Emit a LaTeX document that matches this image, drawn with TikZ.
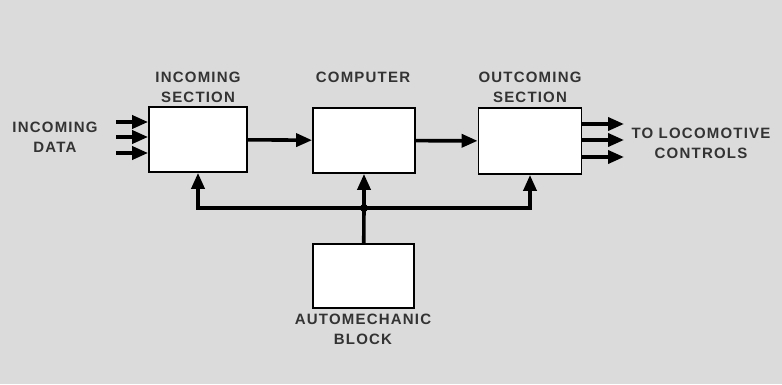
\documentclass[tikz,border=0pt]{standalone}
\usepackage{fontspec}
\newfontfamily\blockfont[LetterSpace=8]{Liberation Sans}
\usetikzlibrary{arrows.meta}

\begin{document}
\begin{tikzpicture}[x=1pt, y=-1pt,
  blocknode/.style={draw, line width=1.8pt, fill=white, inner sep=0pt},
  textnode/.style={font=\blockfont\bfseries\fontsize{15}{20}\selectfont, align=center, text=black!80},
  flow/.style={line width=3.6pt, -{Triangle[length=16pt, width=13pt]}}]
\fill[gray!28] (0,0) rectangle (782,384);
\useasboundingbox (0,0) rectangle (782,384);
% blocks
\node[blocknode, minimum width=98pt, minimum height=65pt] (insec) at (198, 139.5) {};
\node[blocknode, minimum width=102pt, minimum height=65pt] (comp) at (364, 140.5) {};
\node[blocknode, minimum width=103pt, minimum height=66pt] (outsec) at (530, 141) {};
\node[blocknode, minimum width=101pt, minimum height=64pt] (auto) at (363.5, 276) {};
% labels
\node[textnode] (insectext) at (198, 87) {INCOMING\\SECTION};
\node[textnode] (comptext) at (363, 77) {COMPUTER};
\node[textnode] (outsectext) at (530, 87) {OUTCOMING\\SECTION};
\node[textnode] (indata) at (55, 137) {INCOMING\\DATA};
\node[textnode] (loco) at (701, 143) {TO LOCOMOTIVE\\CONTROLS};
\node[textnode] (autotext) at (363, 329) {AUTOMECHANIC\\BLOCK};
% free ends of the data lines
\coordinate (in1) at (116, 122);
\coordinate (in2) at (116, 137);
\coordinate (in3) at (116, 153);
\coordinate (out1) at (624, 124);
\coordinate (out2) at (624, 140);
\coordinate (out3) at (624, 157);
\coordinate (bus) at (364, 208);
% data in and out
\draw[flow] (in1) -- (in1 -| insec.west);
\draw[flow] (in2) -- (in2 -| insec.west);
\draw[flow] (in3) -- (in3 -| insec.west);
\draw[flow] (outsec.east |- out1) -- (out1);
\draw[flow] (outsec.east |- out2) -- (out2);
\draw[flow] (outsec.east |- out3) -- (out3);
% main chain
\draw[flow] (insec) -- (comp);
\draw[flow] (comp) -- (outsec);
% control bus
\draw[line width=3.6pt] (auto) -- (bus);
\draw[flow] (bus) -| (insec.south);
\draw[flow] (bus) -- (comp);
\draw[flow] (bus) -| (outsec.south);
\fill (bus) circle (4pt);
\end{tikzpicture}
\end{document}
